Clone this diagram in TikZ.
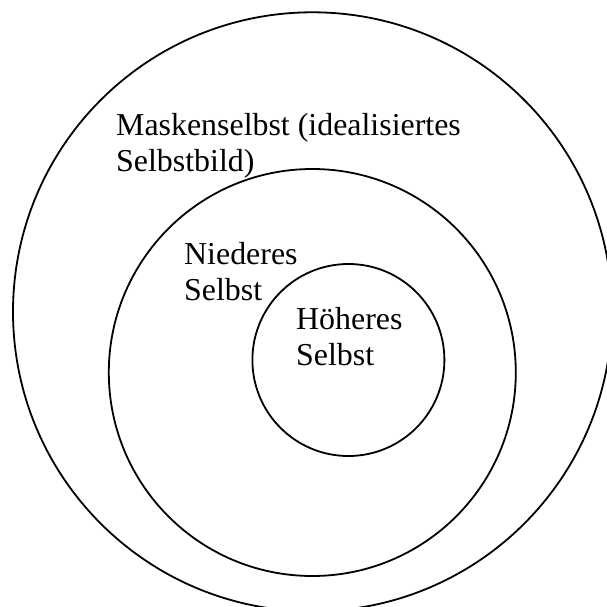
\documentclass[tikz,border=0pt]{standalone}
\usepackage{fontspec}
\setmainfont{Liberation Serif}
\begin{document}
\begin{tikzpicture}[x=1pt,y=-1pt,
  ring/.style={draw=black,circle,line width=1.8pt,inner sep=0pt,fill=none},
  lbl/.style={anchor=base west,inner sep=0pt,align=left,
    font=\fontsize{31.9}{36}\selectfont}]
  \useasboundingbox (0,0) rectangle (606,607);
  \node[ring,minimum size=599pt] (outer) at (312.5,311.8) {};
  \node[ring,minimum size=407pt] (middle) at (312.3,372.5) {};
  \node[ring,minimum size=192pt] (inner) at (348.4,360) {};
  % base anchor of a multi-line node sits on its last line
  \node[lbl] (mask) at (116,171.7) {Maskenselbst (idealisiertes\\Selbstbild)};
  \node[lbl] (nieder) at (184,300.5) {Niederes\\Selbst};
  \node[lbl] (hoeher) at (296,365) {Höheres\\Selbst};
\end{tikzpicture}
\end{document}
